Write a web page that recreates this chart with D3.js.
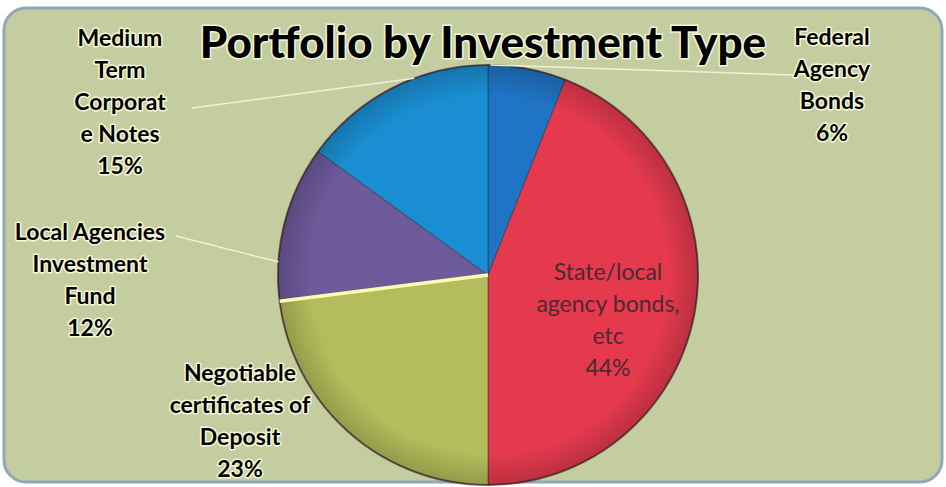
<!DOCTYPE html>
<html><head><meta charset="utf-8">
<script src="https://cdn.jsdelivr.net/npm/d3@7"></script>
<style>html,body{margin:0;padding:0;background:#fff;}svg{display:block;}</style>
</head><body>
<svg id="c" width="946" height="487"></svg>
<script>
const categories = ["Federal Agency Bonds","State/local agency bonds, etc","Negotiable certificates of Deposit","Local Agencies Investment Fund","Medium Term Corporate Notes"];
const values = [6,44,23,12,15];
const labelLines = [["Federal","Agency","Bonds","6%"],["State/local","agency bonds,","etc","44%"],["Negotiable","certificates of","Deposit","23%"],["Local Agencies","Investment","Fund","12%"],["Medium","Term","Corporat","e Notes","15%"]];
const colors = ["#1f74c4","#e53a4e","#b3bd5b","#6c5a9a","#1a8ed2"];
const title = "Portfolio by Investment Type";

const svg = d3.select("#c");
const defs = svg.append("defs");
const rg = defs.append("radialGradient").attr("id","shade").attr("cx","50%").attr("cy","50%").attr("r","50%");
rg.append("stop").attr("offset","0.85").attr("stop-color","#000").attr("stop-opacity",0);
rg.append("stop").attr("offset","1").attr("stop-color","#000").attr("stop-opacity",0.18);

svg.append("rect").attr("x",4).attr("y",8).attr("width",938).attr("height",474).attr("rx",22)
  .attr("fill","#c3cd9f").attr("stroke","#8fa7b9").attr("stroke-width",3);

const cx = 488, cy = 275, R = 210;
const pie = d3.pie().sort(null).value(d=>d)(values);
const arc = d3.arc().innerRadius(0).outerRadius(R);
const g = svg.append("g").attr("transform",`translate(${cx},${cy})`);
g.selectAll("path.s").data(pie).join("path").attr("class","s")
  .attr("d",arc).attr("fill",(d,i)=>colors[i]).attr("stroke","#2a2a3a").attr("stroke-width",1).attr("stroke-opacity",0.5);
g.append("circle").attr("r",R).attr("fill","url(#shade)");
g.append("circle").attr("r",R).attr("fill","none").attr("stroke","#3a1a20").attr("stroke-width",2).attr("stroke-opacity",0.6);
// highlight between Local Agencies and Negotiable slices
const a = pie[3].startAngle;
g.append("line").attr("x1",0).attr("y1",0).attr("x2",R*Math.sin(a)).attr("y2",-R*Math.cos(a))
  .attr("stroke","#fdfab0").attr("stroke-width",3.5);

// leader lines
const edge = (i,frac) => { const d=pie[i]; const ang=d.startAngle+(d.endAngle-d.startAngle)*frac; return [cx+R*Math.sin(ang), cy-R*Math.cos(ang)]; };
const leaders = [
  {i:0, frac:0.03, to:[793,75]},
  {i:4, frac:0.62, to:[192,108]},
  {i:3, frac:0.25, to:[176,236]}
];
leaders.forEach(l=>{
  const p = edge(l.i,l.frac);
  svg.append("line").attr("x1",p[0]).attr("y1",p[1]).attr("x2",l.to[0]).attr("y2",l.to[1])
    .attr("stroke","#eef2dc").attr("stroke-width",1.5);
});

// title
svg.append("text").attr("x",483).attr("y",58).attr("text-anchor","middle")
  .attr("font-family","Lato").attr("font-weight",900).attr("font-size",44)
  .attr("fill","#000").attr("stroke","#f4f6d8").attr("stroke-width",3).attr("paint-order","stroke")
  .text(title);

const labelPos = [[832,45,32],[608,280,32],[240,381,32],[90,240,32],[120,46,32]];
labelLines.forEach((lines,i)=>{
  const [x,y,lh] = labelPos[i];
  const inside = i===1;
  const t = svg.append("text").attr("text-anchor","middle").attr("font-family","Lato")
    .attr("font-weight",inside?400:700).attr("font-size",inside?23:23)
    .attr("fill",inside?"#4a2a30":"#000");
  if(!inside) t.attr("stroke","#f6f8d8").attr("stroke-width",3).attr("paint-order","stroke").attr("stroke-linejoin","round");
  lines.forEach((s,j)=>t.append("tspan").attr("x",x).attr("y",y+j*lh).text(s));
});
</script>
</body></html>
